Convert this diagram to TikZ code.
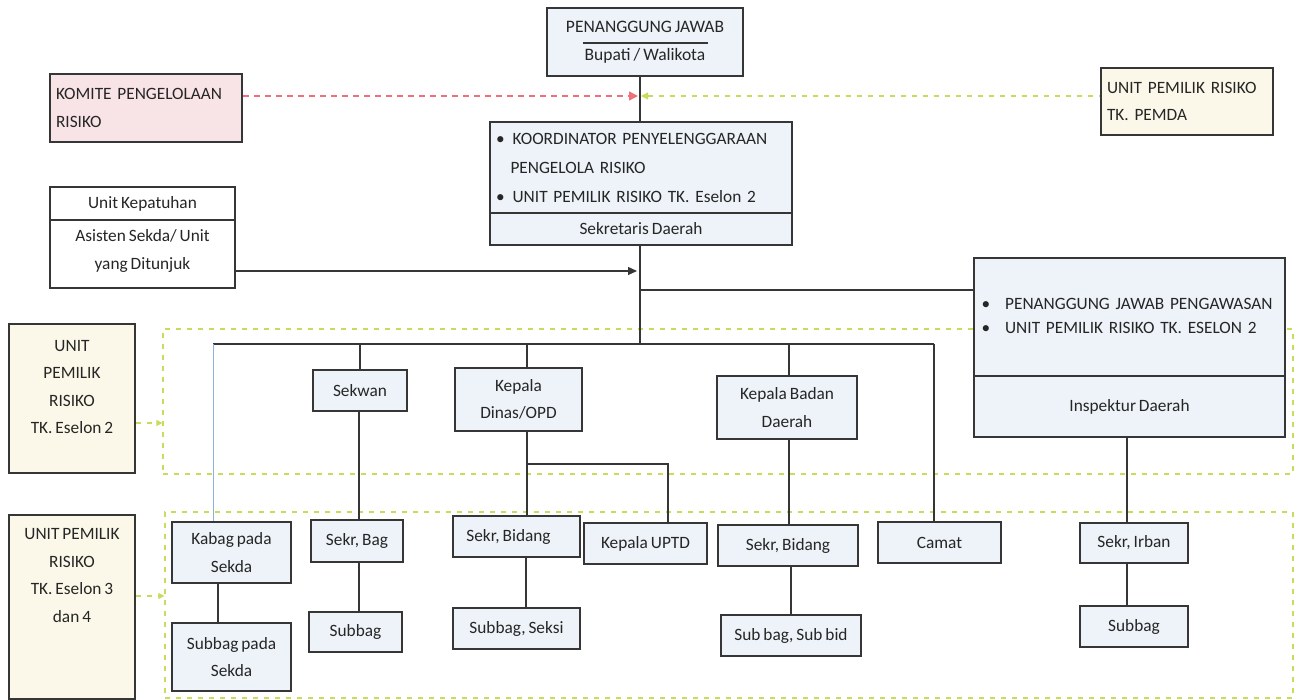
\documentclass[tikz,border=0pt]{standalone}
\usepackage{fontspec}
\setmainfont{Carlito}[WordSpace=0.75]
\usetikzlibrary{arrows.meta,calc}
\definecolor{bluefill}{HTML}{EDF3F8}
\definecolor{pinkfill}{HTML}{F8E4E7}
\definecolor{creamfill}{HTML}{FBF8E9}
\definecolor{edge}{HTML}{363636}
\definecolor{txt}{HTML}{262626}
\definecolor{reddash}{HTML}{F0707A}
\definecolor{greendash}{HTML}{C6DC5A}
\definecolor{thinblue}{HTML}{8EB2DA}
\newcommand{\mybox}[7]{%
  \node[#6, minimum width={#4-#2}, minimum height={#5-#3}] (#1) at ({(#2+#4)/2},{(#3+#5)/2}) {#7};}
\begin{document}
\begin{tikzpicture}[x=1pt,y=-1pt,
  base/.style={draw=edge, line width=1.6pt, inner sep=0pt, text=txt,
    font=\fontsize{17.3}{27.5}\selectfont, align=center},
  bluebox/.style={base, fill=bluefill},
  pinkbox/.style={base, fill=pinkfill},
  creambox/.style={base, fill=creamfill},
  whitebox/.style={base, fill=white},
  conn/.style={draw=edge, line width=1.3pt},
  zone/.style={draw=greendash, line width=1.3pt, dash pattern=on 5pt off 6pt},
  redarrow/.style={draw=reddash, line width=1.5pt, dash pattern=on 6pt off 5pt,
    -{Triangle[length=9pt,width=9pt,fill=reddash]}},
  greenarrow/.style={draw=greendash, line width=1.3pt, dash pattern=on 5pt off 6pt},
  ]
\useasboundingbox (0,0) rectangle (1294,700);

% green dashed zones
\mybox{zoneA}{163}{329}{1293}{474}{zone, inner sep=0pt}{}
\mybox{zoneB}{165}{512}{1293}{698}{zone, inner sep=0pt}{}

% top
\mybox{pj}{547}{8}{743}{76}{bluebox, font=\fontsize{17.5}{28}\selectfont}{PENANGGUNG JAWAB\\Bupati / Walikota}
\draw[edge, line width=1.3pt] ($(pj.center)+(-62,1)$) -- ($(pj.center)+(63,1)$);

\mybox{komite}{50}{74}{242}{142}{pinkbox, align=left, text width=180pt}{KOMITE PENGELOLAAN\\RISIKO}
\mybox{pemda}{1101}{68}{1273}{135}{creambox, align=left, text width=160pt}{UNIT PEMILIK RISIKO\\TK. PEMDA}

\mybox{kt}{490}{122}{792}{213}{bluebox, align=left, text width=290pt, font=\fontsize{17.3}{29}\selectfont}{%
\textbullet\hspace{8pt}KOORDINATOR PENYELENGGARAAN\\
\hspace*{14.5pt}PENGELOLA RISIKO\\
\textbullet\hspace{8pt}UNIT PEMILIK RISIKO TK. Eselon 2}
\mybox{kb}{490}{213}{792}{245}{bluebox}{Sekretaris Daerah}

\mybox{kep1}{50}{187}{235}{220}{whitebox}{Unit Kepatuhan}
\mybox{kep2}{50}{220}{235}{288}{whitebox}{Asisten Sekda/ Unit\\yang Ditunjuk\\[-18pt]\mbox{}}

% Inspektur
\mybox{ins1}{974}{258}{1285}{376}{bluebox, align=left, text width=296pt, font=\fontsize{17.3}{24}\selectfont}{%
\mbox{}\\[-14pt]
\textbullet\hspace{15pt}PENANGGUNG JAWAB PENGAWASAN\\
\textbullet\hspace{15pt}UNIT PEMILIK RISIKO TK. ESELON 2}
\mybox{ins2}{974}{376}{1285}{437}{bluebox}{Inspektur Daerah}

% left unit boxes
\mybox{u2}{9}{324}{135}{473}{creambox}{UNIT\\PEMILIK\\RISIKO\\TK. Eselon 2\\[-4pt]\mbox{}}
\mybox{u34}{9}{515}{135}{699}{creambox}{UNIT PEMILIK\\RISIKO\\TK. Eselon 3\\dan 4\\\mbox{}\\[8pt]\mbox{}}

% second level
\mybox{sekwan}{313}{370}{407}{411}{bluebox}{Sekwan}
\mybox{dinas}{455}{368}{582}{431}{bluebox}{Kepala\\Dinas/OPD}
\mybox{badan}{717}{376}{857}{439}{bluebox}{Kepala Badan\\Daerah}

% third level
\mybox{kabag}{172}{522}{291}{583}{bluebox}{Kabag pada\\Sekda}
\mybox{sekrbag}{311}{520}{403}{562}{bluebox}{Sekr, Bag}
\mybox{sekrbid}{453}{516}{580}{557}{bluebox}{Sekr, Bidang\hspace*{16pt}}
\mybox{uptd}{584}{523}{707}{564}{bluebox}{Kepala UPTD}
\mybox{sekrbidb}{718}{525}{858}{566}{bluebox}{Sekr, Bidang}
\mybox{camat}{878}{522}{1001}{563}{bluebox}{Camat}
\mybox{irban}{1080}{523}{1188}{563}{bluebox}{Sekr, Irban}

% fourth level
\mybox{subsekda}{172}{623}{291}{691}{bluebox}{Subbag pada\\Sekda}
\mybox{subbag}{309}{612}{402}{652}{bluebox}{Subbag}
\mybox{seksi}{453}{608}{580}{649}{bluebox}{Subbag, Seksi}
\mybox{subbid}{721}{615}{861}{656}{bluebox}{Sub bag, Sub bid}
\mybox{subbagi}{1080}{606}{1188}{647}{bluebox}{Subbag}

% coordinates
\coordinate (spine) at (640,96);
\coordinate (jk) at (640,271);
\coordinate (ji) at (640,290);
\coordinate (bus) at (640,344);
\coordinate (busL) at (213,344);
\coordinate (busR) at (934,344);
\coordinate (ya) at (0,423);
\coordinate (yb) at (0,596);

% connectors top
\draw[conn] (pj.south -| spine) -- (kt.north -| spine);
\draw[redarrow] (komite.east |- spine) -- ([xshift=-2pt]spine);
\draw[greenarrow, {Triangle[length=7pt,width=7pt,fill=greendash]}-] ([xshift=1pt]spine) -- (pemda.west |- spine);
\draw[conn] (kb.south -| spine) -- (bus);
\draw[conn, -{Triangle[length=9pt,width=8pt]}] (kep2.east |- jk) -- ([xshift=-3pt]jk);
\draw[conn] (ji) -- (ins1.west |- ji);
\draw[conn] (busL) -- (busR);

% zone arrows
\draw[greenarrow, -{Triangle[length=6pt,width=6pt,fill=greendash]}] (u2.east |- ya) -- (zoneA.west |- ya);
\draw[greenarrow, -{Triangle[length=6pt,width=6pt,fill=greendash]}] (u34.east |- yb) -- (zoneB.west |- yb);

% branches
\draw[thinblue, line width=0.9pt] (busL) -- (kabag.north -| busL);
\draw[conn] (sekwan.north |- bus) -- (sekwan.north);
\draw[conn] (527,344) -- (dinas.north -| 527,0);
\draw[conn] (789,344) -- (badan.north -| 789,0);
\draw[conn] (busR) -- (camat.north -| busR);

\draw[conn] (sekwan.south -| 359,0) -- (sekrbag.north -| 359,0);
\draw[conn] (sekrbag.south -| 359,0) -- (subbag.north -| 359,0);
\draw[conn] (kabag.south -| 218,0) -- (subsekda.north -| 218,0);
\draw[conn] (dinas.south -| 527,0) -- (sekrbid.north -| 527,0);
\draw[conn] (527,464) -| (uptd.north -| 668,0);
\draw[conn] (sekrbid.south -| 526,0) -- (seksi.north -| 526,0);
\draw[conn] (badan.south -| 789,0) -- (sekrbidb.north -| 789,0);
\draw[conn] (sekrbidb.south -| 791,0) -- (subbid.north -| 791,0);
\draw[conn] (ins2.south -| 1127,0) -- (irban.north -| 1127,0);
\draw[conn] (irban.south -| 1127,0) -- (subbagi.north -| 1127,0);
\end{tikzpicture}
\end{document}
